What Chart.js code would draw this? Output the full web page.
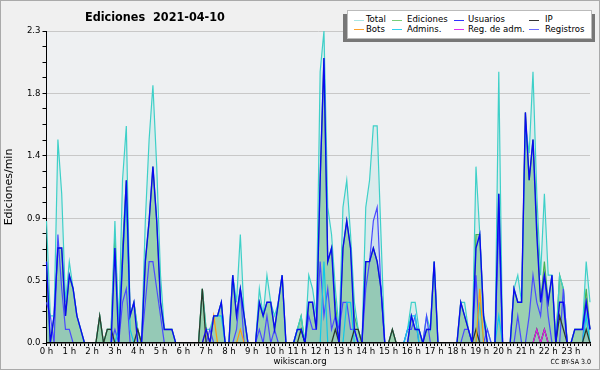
<!DOCTYPE html>
<html>
<head>
<meta charset="utf-8">
<script src="https://cdn.jsdelivr.net/npm/chart.js@4"></script>
<style>
  html, body { margin: 0; padding: 0; background: #f0f0f0; }
  #wrap { position: relative; width: 600px; height: 370px; overflow: hidden; font-family: 'DejaVu Sans Condensed', 'DejaVu Sans', sans-serif; }
  #frame { position: absolute; left: 0; top: 0; width: 598px; height: 368px; border: 1px solid #aaa; pointer-events: none; }
  #title { position: absolute; left: 85px; top: 9px; font-weight: bold; font-size: 12.5px; white-space: pre; color: #000; }
  #lg-shadow { position: absolute; left: 343px; top: 14px; width: 252px; height: 28px; background: #777; }
  #lg-box { position: absolute; left: 347px; top: 10px; width: 243px; height: 27px; background: #fff; border: 1px solid #bbb; }
  .lg-sw { position: absolute; height: 1px; width: 10px; }
  .lg-tx { position: absolute; font-size: 9.5px; line-height: 10px; color: #000; white-space: nowrap; }
  #site { position: absolute; left: 250px; width: 100px; top: 355px; text-align: center; font-size: 9.5px; color: #000; }
  #lic { position: absolute; right: 9px; top: 358px; font-size: 7px; color: #000; }
</style>
</head>
<body>
<div id="wrap">
  <canvas id="c" width="600" height="370"></canvas>
  <div id="title">Ediciones  2021-04-10</div>
  <div id="lg-shadow"></div>
  <div id="lg-box"></div>
  <div id="site">wikiscan.org</div>
  <div id="lic">CC BY-SA 3.0</div>
  <div id="frame"></div>
</div>
<script>
'use strict';

// ── datos: ediciones por minuto, tramos de 10 min (6 por hora) ──
const HOUR_LABELS = ['0 h','1 h','2 h','3 h','4 h','5 h','6 h','7 h','8 h','9 h','10 h','11 h',
  '12 h','13 h','14 h','15 h','16 h','17 h','18 h','19 h','20 h','21 h','22 h','23 h'];

const Y_TICKS = [0, 0.46, 0.92, 1.38, 1.84, 2.3];
const Y_LABELS = ['0.0', '0.5', '0.9', '1.4', '1.8', '2.3'];

const TOTAL = [
  0.9,0.2,0.2,1.5,1.1,0.3, 0.6,0.4,0.2,0.1,0,0, 0,0,0.2,0,0.1,0.1, 0.9,0.1,1.2,1.6,0.2,0.3,
  0.1,0,0.9,1.5,1.9,1.3, 0.5,0.1,0.1,0.1,0,0, 0,0,0,0,0,0.4, 0.1,0.1,0.2,0.2,0.3,0,
  0,0.5,0.3,0.8,0.2,0, 0,0,0.4,0.2,0.5,0.3, 0.2,0.3,0.5,0,0,0, 0.1,0.2,0,0.5,0.4,0.2,
  2.0,2.3,1.0,0.8,0.4,0.1, 1.0,1.2,0.8,0.3,0.1,0, 1.0,1.2,1.6,1.6,0.8,0, 0,0.1,0,0,0,0.1,
  0.3,0.3,0.1,0,0.2,0.1, 0.6,0,0,0,0,0, 0,0.3,0.3,0.1,0,1.3, 0.8,0.2,0.1,0,0,2.0,
  0,0,0,0.4,0.5,0.3, 1.6,1.4,2.0,1.1,0.5,1.1, 0.5,0.5,0,0.5,0.4,0, 0,0.1,0.1,0.1,0.6,0.3
];
const EDICIONES = [
  0.6,0,0.2,0.7,0.7,0.2, 0.5,0.4,0.2,0.1,0,0, 0,0,0.2,0,0.1,0.1, 0.8,0.1,0.7,1.2,0.2,0.3,
  0.1,0,0.6,0.9,1.3,0.9, 0.3,0.1,0.1,0.1,0,0, 0,0,0,0,0,0.4, 0.1,0,0.2,0.2,0.3,0,
  0,0.5,0.2,0.4,0.2,0, 0,0,0.3,0.2,0.3,0.3, 0.1,0.3,0.5,0,0,0, 0.1,0.2,0,0.3,0.3,0.1,
  1.2,2.1,0.6,0.7,0.3,0, 0.7,0.9,0.7,0.2,0.1,0, 0.6,0.6,0.7,0.6,0.4,0, 0,0.1,0,0,0,0,
  0.2,0.1,0.1,0,0.1,0.1, 0.6,0,0,0,0,0, 0,0.3,0.2,0.1,0,0.8, 0.8,0.2,0,0,0,1.1,
  0,0,0,0.4,0.3,0.3, 1.7,1.2,1.5,0.9,0.3,0.6, 0.3,0.5,0,0.5,0.4,0, 0,0.1,0.1,0.1,0.4,0.1
];
const USUARIOS = [
  0.6,0,0.2,0.7,0.7,0.2, 0.5,0.4,0.2,0.1,0,0, 0,0,0,0,0,0, 0.7,0,0.6,1.2,0.2,0.3,
  0,0,0.6,0.9,1.3,0.9, 0.3,0.1,0.1,0.1,0,0, 0,0,0,0,0,0, 0.1,0,0.2,0.2,0.3,0,
  0,0.5,0.2,0.4,0.2,0, 0,0,0.3,0.2,0.3,0.3, 0.1,0.3,0.5,0,0,0, 0.1,0.1,0,0.3,0.3,0.1,
  1.2,2.1,0.6,0.7,0.2,0, 0.7,0.9,0.7,0.1,0,0, 0.6,0.6,0.7,0.6,0.4,0, 0,0,0,0,0,0,
  0.2,0.1,0.1,0,0.1,0.1, 0.6,0,0,0,0,0, 0,0.3,0.2,0.1,0,0.7, 0.8,0.2,0,0,0,1.1,
  0,0,0,0.4,0.3,0.3, 1.7,1.2,1.5,0.8,0.3,0.5, 0.3,0.5,0,0.3,0.3,0, 0,0.1,0.1,0.1,0.3,0.1
];
const IP = [
  0,0,0,0,0,0, 0,0,0,0,0,0, 0,0,0.2,0,0.1,0.1, 0,0,0,0,0,0,
  0.1,0,0,0,0,0, 0,0,0,0,0,0, 0,0,0,0,0,0.4, 0,0,0,0,0,0,
  0,0,0,0,0,0, 0,0,0,0,0,0, 0,0,0,0,0,0, 0,0.1,0,0,0,0,
  0,0,0,0,0.1,0, 0,0,0,0.1,0.1,0, 0,0,0,0,0,0, 0,0.1,0,0,0,0,
  0,0,0,0,0,0, 0,0,0,0,0,0, 0,0,0,0,0,0.1, 0,0,0,0,0,0,
  0,0,0,0,0,0, 0,0,0,0.1,0,0.1, 0,0,0,0.2,0.1,0, 0,0,0,0,0.1,0
];
const BOTS = [
  0,0,0,0,0,0, 0,0,0,0,0,0, 0,0,0,0,0,0, 0,0,0,0,0,0,
  0,0,0,0,0,0, 0,0,0,0,0,0, 0,0,0,0,0,0, 0.1,0,0.2,0,0,0,
  0,0,0,0.1,0,0, 0,0,0,0,0,0, 0,0,0,0,0,0, 0,0,0,0,0,0,
  0,0,0,0,0,0, 0,0,0,0,0,0, 0,0,0,0,0,0, 0,0,0,0,0,0,
  0,0,0,0,0,0, 0,0,0,0,0,0, 0,0,0,0,0,0, 0.4,0,0,0,0,0,
  0,0,0,0,0,0, 0,0,0,0,0,0, 0,0,0,0,0,0, 0,0,0,0,0,0
];
const ADMINS = [
  0,0,0,0,0,0, 0,0,0,0,0,0, 0,0,0,0,0,0, 0,0.1,0.6,1.1,0.1,0,
  0,0,0,0,0,0, 0,0,0,0,0,0, 0,0,0,0,0,0, 0,0,0.2,0.2,0.2,0,
  0,0,0,0,0,0, 0,0,0,0,0,0, 0,0,0,0,0,0, 0.1,0.1,0,0,0,0,
  0,0.6,0,0,0,0, 0,0.3,0.3,0,0,0, 0,0,0,0,0,0, 0,0,0,0,0,0.1,
  0.2,0.2,0,0,0,0, 0,0,0,0,0,0, 0,0,0,0,0,0, 0.3,0,0,0,0,0.2,
  0,0,0,0,0,0, 0,0,0,0,0,0, 0,0,0,0,0,0, 0,0,0,0,0.2,0
];
const REG_ADM = [
  0,0,0,0,0,0, 0,0,0,0,0,0, 0,0,0,0,0,0, 0,0,0,0,0,0,
  0,0,0,0,0,0, 0,0,0,0,0,0, 0,0,0,0,0,0, 0,0,0,0,0,0,
  0,0,0,0,0,0, 0,0,0,0,0,0, 0,0,0,0,0,0, 0,0,0,0,0,0,
  0,0,0,0,0,0, 0,0,0,0,0,0, 0,0,0,0,0,0, 0,0,0,0,0,0,
  0,0,0,0,0,0, 0,0,0,0,0,0, 0,0,0,0,0,0, 0,0,0,0,0,0,
  0,0,0,0,0,0, 0,0,0,0.1,0,0.1, 0,0,0,0,0,0, 0,0,0,0,0,0
];
const REGISTROS = [
  0.3,0.2,0,0.8,0.4,0.1, 0.1,0,0,0,0,0, 0,0,0,0,0,0, 0.1,0,0.3,0.4,0,0,
  0,0,0.3,0.6,0.6,0.4, 0.2,0,0,0,0,0, 0,0,0,0,0,0, 0,0.1,0,0,0,0,
  0,0,0.1,0.4,0,0, 0,0,0.1,0,0.2,0, 0.1,0,0,0,0,0, 0,0,0,0.2,0.1,0.1,
  0.6,0.2,0.4,0.1,0.2,0.1, 0.3,0.3,0.1,0.1,0,0, 0.4,0.6,0.9,1.0,0.4,0, 0,0,0,0,0,0.1,
  0.1,0.2,0,0,0.2,0, 0,0,0,0,0,0, 0,0,0.1,0.1,0,0.5, 0,0,0.1,0,0,0.9,
  0,0,0,0,0.2,0, 0,0.2,0.5,0.3,0.2,0.5, 0.2,0,0,0,0.4,0, 0,0,0,0,0.3,0.1
];

// índice de tramo (0..143) como etiqueta del eje x lineal
const BINS = TOTAL.map((v, i) => i);

const FONT = "'DejaVu Sans Condensed', 'DejaVu Sans', sans-serif";

// ── leyenda (texto HTML en el recuadro) ──
const LEGEND = [
  { label: 'Total',        color: '#a6e6e4', col: 0, row: 0 },
  { label: 'Ediciones',    color: '#78cc78', col: 1, row: 0 },
  { label: 'Usuarios',     color: '#3030ff', col: 2, row: 0 },
  { label: 'IP',           color: '#333333', col: 3, row: 0 },
  { label: 'Bots',         color: '#ffa028', col: 0, row: 1 },
  { label: 'Admins.',      color: '#30d0ee', col: 1, row: 1 },
  { label: 'Reg. de adm.', color: '#e030f0', col: 2, row: 1 },
  { label: 'Registros',    color: '#6a6aff', col: 3, row: 1 },
];
const LG_SW_X = [354, 392, 454, 529];
const LG_TX_X = [366, 407, 468, 545];
const LG_ROW_Y = [19.5, 29];

const wrap = document.getElementById('wrap');
LEGEND.forEach(function(it) {
  const sw = document.createElement('div');
  sw.className = 'lg-sw';
  sw.style.left = LG_SW_X[it.col] + 'px';
  sw.style.top = Math.round(LG_ROW_Y[it.row]) + 'px';
  sw.style.background = it.color;
  wrap.insertBefore(sw, document.getElementById('site'));
  const tx = document.createElement('div');
  tx.className = 'lg-tx';
  tx.textContent = it.label;
  tx.style.left = LG_TX_X[it.col] + 'px';
  tx.style.top = (LG_ROW_Y[it.row] - 5.5) + 'px';
  wrap.insertBefore(tx, document.getElementById('site'));
});

// fondo del área de trazado
const plotBg = {
  id: 'plotBg',
  beforeDraw(chart) {
    const a = chart.chartArea, ctx = chart.ctx;
    ctx.save();
    ctx.fillStyle = '#eef0f2';
    ctx.fillRect(a.left, a.top, a.right - a.left, a.bottom - a.top);
    ctx.restore();
  }
};

function line(label, data, color, width, order, fill) {
  return {
    label: label,
    data: data,
    borderColor: color,
    borderWidth: width,
    backgroundColor: fill || 'transparent',
    fill: fill ? 'origin' : false,
    pointRadius: 0,
    tension: 0,
    order: order,
    // recorte justo en la base para que el eje tape las líneas en cero
    clip: { left: 1, top: 2, right: 1, bottom: -1 },
  };
}

const isMajor = (v) => Y_TICKS.some(t => Math.abs(t - v) < 1e-6);

new Chart(document.getElementById('c'), {
  type: 'line',
  data: {
    labels: BINS,
    datasets: [
      line('Usuarios', USUARIOS, '#0a0af0', 1.4, 1),
      line('Reg. de adm.', REG_ADM, '#e020e8', 1.2, 2),
      line('Bots', BOTS, '#ff9a10', 1.2, 3),
      line('IP', IP, '#2c3a2c', 1.3, 4),
      line('Admins.', ADMINS, '#10c8e8', 1.2, 5),
      line('Registros', REGISTROS, '#4a4aff', 1.2, 6, 'rgba(90,110,255,0.08)'),
      line('Total', TOTAL, '#3ed0c8', 1.2, 7, 'rgba(70,205,195,0.12)'),
      line('Ediciones', EDICIONES, '#46b046', 1.2, 8, 'rgba(60,165,70,0.40)'),
    ]
  },
  options: {
    responsive: false,
    animation: false,
    layout: { padding: { left: 0, right: 10, top: 31, bottom: 0 } },
    plugins: { legend: { display: false }, tooltip: { enabled: false } },
    scales: {
      x: {
        type: 'linear',
        min: 0,
        max: 143,
        z: 1,
        afterFit: (s) => { s.height = 27; },
        afterBuildTicks: (s) => { s.ticks = BINS.map(v => ({ value: v })); },
        ticks: {
          autoSkip: false,
          maxRotation: 0,
          padding: 0,
          color: '#000',
          font: { family: FONT, size: 9.5 },
          callback: (v) => (v % 6 === 0 ? HOUR_LABELS[v / 6] : ''),
        },
        grid: { drawOnChartArea: false, tickLength: 3, tickColor: '#000', color: '#000' },
        border: { display: true, color: '#000', width: 1.5 },
      },
      y: {
        min: 0,
        max: 2.3,
        z: 1,
        afterFit: (s) => { s.width = 46.5; },
        afterBuildTicks: (s) => {
          const t = [];
          for (let i = 0; i < Y_TICKS.length - 1; i++) {
            const step = (Y_TICKS[i + 1] - Y_TICKS[i]) / 4;
            for (let k = 0; k < 4; k++) t.push({ value: Y_TICKS[i] + k * step });
          }
          t.push({ value: Y_TICKS[Y_TICKS.length - 1] });
          s.ticks = t;
        },
        ticks: {
          autoSkip: false,
          padding: 2,
          color: '#000',
          font: { family: FONT, size: 9.5 },
          callback: (v) => {
            const i = Y_TICKS.findIndex(t => Math.abs(t - v) < 1e-6);
            return i >= 0 ? Y_LABELS[i] : '';
          },
        },
        grid: {
          tickLength: 4,
          tickColor: '#000',
          color: (ctx) => (ctx.tick && ctx.tick.value > 0 && isMajor(ctx.tick.value) ? '#c8c8c8' : 'rgba(0,0,0,0)'),
        },
        border: { display: true, color: '#000', width: 1 },
        title: {
          display: true,
          text: 'Ediciones/min',
          color: '#000',
          font: { family: "'DejaVu Sans', sans-serif", size: 11 },
          padding: { top: 3, bottom: 0 },
        },
      },
    },
  },
  plugins: [plotBg],
});
</script>
</body>
</html>
